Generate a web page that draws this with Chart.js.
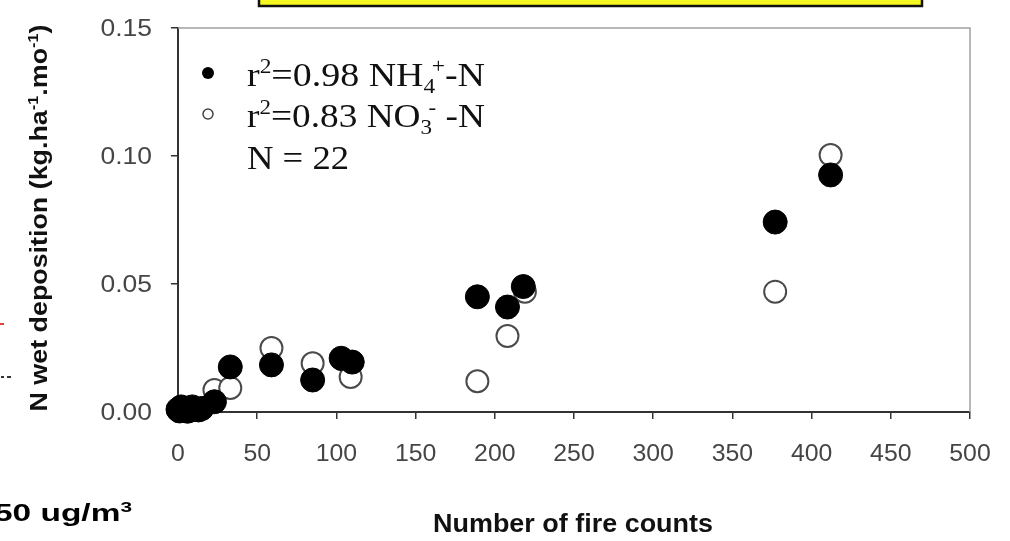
<!DOCTYPE html>
<html>
<head>
<meta charset="utf-8">
<script src="https://cdn.jsdelivr.net/npm/chart.js@4.4.0/dist/chart.umd.min.js"></script>
<style>
  html, body { margin: 0; padding: 0; background: #fff; }
  #myChart { display: block; }
</style>
</head>
<body>
<canvas id="myChart" width="1010" height="541"></canvas>
<script>
// values (fire counts vs N wet deposition, kg/ha/month)
const fireNH4 = [0, 1, 3, 2, 4, 6, 7, 9, 11, 13, 15, 23, 33, 59, 85, 103, 110, 189, 208, 218, 377, 412];
const nh4 = [0.0010, 0.0004, 0.0015, 0.0020, 0.0008, 0.0003, 0.0012, 0.0020, 0.0010, 0.0008, 0.0014,
             0.0040, 0.0176, 0.0184, 0.0125, 0.0210, 0.0195, 0.0450, 0.0410, 0.0490, 0.0742, 0.0926];
const fireNO3 = [0, 1, 3, 2, 4, 6, 7, 9, 11, 13, 15, 23, 33, 59, 85, 104, 109, 189, 208, 219, 377, 412];
const no3 = [0.0008, 0.0005, 0.0012, 0.0018, 0.0010, 0.0004, 0.0010, 0.0015, 0.0010, 0.0012, 0.0012,
             0.0086, 0.0094, 0.0250, 0.0190, 0.0205, 0.0137, 0.0120, 0.0297, 0.0470, 0.0470, 0.1004];
const xTicks = [0, 50, 100, 150, 200, 250, 300, 350, 400, 450, 500];
const yTicks = [0, 0.05, 0.10, 0.15];

const SANS = '"Liberation Sans", Arial, sans-serif';
const SERIF = '"Liberation Serif", "Times New Roman", serif';

const ctx = document.getElementById('myChart').getContext('2d');

const toPoints = (xs, ys) => xs.map((x, i) => ({ x: x, y: ys[i] }));

// lay out text runs with sub/superscripts
function layoutRuns(c, runs, size, family, weight) {
    let x = 0, lastStart = 0;
    const items = runs.map(r => {
        const fs = (r.sup || r.sub) ? Math.round(size * 0.62) : size;
        c.font = weight + ' ' + fs + 'px ' + family;
        const w = c.measureText(r.t).width;
        const start = r.over ? lastStart + fs * 0.35 : x;
        lastStart = start;
        x = Math.max(x, start + w);
        const dy = r.sup ? -size * 0.38 : (r.sub ? size * 0.22 : 0);
        return { t: r.t, font: c.font, x: start, dy: dy };
    });
    return { items: items, width: x };
}

function drawRuns(c, runs, o) {
    const lay = layoutRuns(c, runs, o.size, o.family, o.weight || 'normal');
    const sx = o.width ? o.width / lay.width : (o.sx || 1);
    c.save();
    c.translate(o.x, o.y);
    if (o.rotate) c.rotate(o.rotate);
    c.scale(sx, 1);
    const x0 = o.align === 'center' ? -lay.width / 2 : (o.align === 'right' ? -lay.width : 0);
    c.fillStyle = o.color || '#000';
    c.textAlign = 'left';
    c.textBaseline = 'alphabetic';
    lay.items.forEach(it => {
        c.font = it.font;
        c.fillText(it.t, x0 + it.x, it.dy);
    });
    c.restore();
}

const decorPlugin = {
    id: 'decor',
    afterDraw(chart) {
        const c = chart.ctx;
        const a = chart.chartArea;
        const xs = chart.scales.x, ys = chart.scales.y;

        // light frame on top and right
        c.save();
        c.strokeStyle = '#a0a0a0';
        c.lineWidth = 1.5;
        c.beginPath();
        c.moveTo(a.left, a.top);
        c.lineTo(a.right, a.top);
        c.lineTo(a.right, a.bottom);
        c.stroke();
        c.restore();

        // tick labels
        ys.ticks.forEach(t => {
            drawRuns(c, [{ t: t.value.toFixed(2) }], {
                x: 152, y: ys.getPixelForValue(t.value) + 8,
                size: 23, family: SANS, color: '#454545', sx: 1.15, align: 'right'
            });
        });
        xs.ticks.forEach(t => {
            drawRuns(c, [{ t: String(t.value) }], {
                x: xs.getPixelForValue(t.value), y: 461,
                size: 23, family: SANS, color: '#454545', sx: 1.08, align: 'center'
            });
        });

        // axis titles
        drawRuns(c, [{ t: 'Number of fire counts' }], {
            x: 573, y: 532, size: 25, family: SANS, weight: 'bold', color: '#111', width: 280, align: 'center'
        });
        drawRuns(c, [{ t: 'N wet deposition (kg.ha' }, { t: '-1', sup: true }, { t: '.mo' }, { t: '-1', sup: true }, { t: ')' }], {
            x: 47, y: 218, rotate: -Math.PI / 2, size: 23, family: SANS, weight: 'bold', color: '#111', width: 387, align: 'center'
        });

        // legend
        c.save();
        c.fillStyle = '#000';
        c.beginPath();
        c.arc(208, 73, 6, 0, Math.PI * 2);
        c.fill();
        c.strokeStyle = '#444';
        c.lineWidth = 1.5;
        c.beginPath();
        c.arc(208, 114, 5, 0, Math.PI * 2);
        c.stroke();
        c.restore();
        drawRuns(c, [{ t: 'r' }, { t: '2', sup: true }, { t: '=0.98 NH' }, { t: '4', sub: true }, { t: '+', sup: true, over: true }, { t: '-N' }], {
            x: 247, y: 86, size: 34, family: SERIF, color: '#111', width: 238
        });
        drawRuns(c, [{ t: 'r' }, { t: '2', sup: true }, { t: '=0.83 NO' }, { t: '3', sub: true }, { t: '-', sup: true, over: true }, { t: ' -N' }], {
            x: 247, y: 127, size: 34, family: SERIF, color: '#111', width: 238
        });
        drawRuns(c, [{ t: 'N = 22' }], {
            x: 247, y: 169, size: 34, family: SERIF, color: '#111', width: 102
        });

        // yellow box cut off at the top
        c.save();
        c.fillStyle = '#f6f620';
        c.fillRect(259, -4, 663, 10);
        c.strokeStyle = '#111';
        c.lineWidth = 2.5;
        c.strokeRect(259, -4, 663, 10);
        c.restore();

        // fragments of the neighbouring figure on the left
        c.save();
        c.fillStyle = '#e04040';
        c.fillRect(0, 323, 4, 2);
        c.fillStyle = '#333';
        c.fillRect(1, 376, 3, 2);
        c.fillRect(7, 376, 4, 2);
        c.restore();
        drawRuns(c, [{ t: '50 ug/m' }, { t: '3', sup: true }], {
            x: -6, y: 521, size: 24, family: SANS, weight: 'bold', color: '#000', width: 138
        });
    }
};

const myChart = new Chart(ctx, {
    type: 'scatter',
    data: {
        datasets: [{
            label: 'NH4+-N',
            data: toPoints(fireNH4, nh4),
            pointRadius: 12,
            pointHoverRadius: 12,
            pointBackgroundColor: '#000',
            pointBorderColor: '#000',
            pointBorderWidth: 1,
            clip: false
        }, {
            label: 'NO3--N',
            data: toPoints(fireNO3, no3),
            pointRadius: 11,
            pointHoverRadius: 11,
            pointBackgroundColor: '#fff',
            pointBorderColor: '#4a4a4a',
            pointBorderWidth: 2,
            clip: false
        }]
    },
    options: {
        responsive: false,
        animation: false,
        devicePixelRatio: 1,
        events: [],
        layout: {
            autoPadding: false,
            padding: { top: 28, right: 40, left: 0, bottom: 0 }
        },
        plugins: {
            legend: { display: false },
            tooltip: { enabled: false }
        },
        scales: {
            x: {
                type: 'linear',
                min: 0,
                max: 500,
                afterBuildTicks: s => { s.ticks = xTicks.map(v => ({ value: v })); },
                afterFit: s => { s.height = 129; },
                ticks: { display: false },
                grid: { drawOnChartArea: false, drawTicks: true, tickLength: 7, color: '#333', lineWidth: 1.5 },
                border: { display: true, color: '#333', width: 2 }
            },
            y: {
                type: 'linear',
                min: 0,
                max: 0.15,
                afterBuildTicks: s => { s.ticks = yTicks.map(v => ({ value: v })); },
                afterFit: s => { s.width = 178; },
                ticks: { display: false },
                grid: { drawOnChartArea: false, drawTicks: true, tickLength: 7, color: '#333', lineWidth: 1.5 },
                border: { display: true, color: '#333', width: 2 }
            }
        }
    },
    plugins: [decorPlugin]
});
</script>
</body>
</html>
